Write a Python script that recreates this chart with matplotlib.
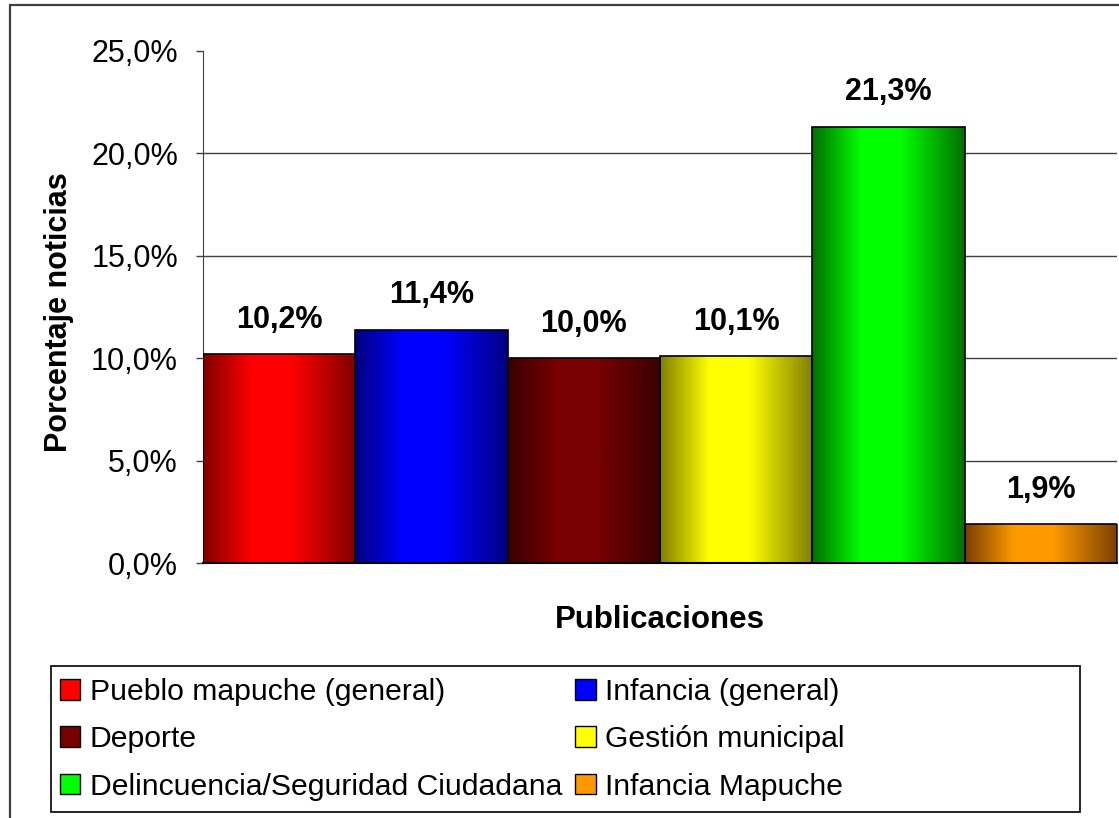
import matplotlib.pyplot as plt
import numpy as np
from matplotlib.colors import to_rgb
from matplotlib.patches import Patch, Rectangle

plt.rcParams['font.family'] = ['Liberation Sans', 'DejaVu Sans']

categorias = ['Pueblo mapuche (general)', 'Infancia (general)', 'Deporte',
              'Gestión municipal', 'Delincuencia/Seguridad Ciudadana', 'Infancia Mapuche']
porcentajes = [10.2, 11.4, 10.0, 10.1, 21.3, 1.9]
etiquetas = ['10,2%', '11,4%', '10,0%', '10,1%', '21,3%', '1,9%']
color_centro = ['#ff0000', '#0000ff', '#780000', '#ffff00', '#00ff00', '#ff9900']
color_borde = ['#800000', '#000080', '#3a0000', '#808000', '#007000', '#7a4000']
yticks = [0, 5, 10, 15, 20, 25]
ytick_labels = ['0,0%', '5,0%', '10,0%', '15,0%', '20,0%', '25,0%']

fig = plt.figure(figsize=(11.19, 8.18), dpi=100)
ax = fig.add_axes([0.1814, 0.3117, 0.8168, 0.626])

x = np.arange(len(categorias))
bars = ax.bar(x, porcentajes, width=1.0, color='none', edgecolor='black', linewidth=1.2, zorder=3)

# horizontal gradient (dark - bright - dark) clipped to each bar
t = np.linspace(0, 1, 200)
perfil = np.clip(np.minimum(t / 0.32, (1 - t) / 0.42), 0, 1)
for b, c0, c1 in zip(bars, color_borde, color_centro):
    a, c = np.array(to_rgb(c0)), np.array(to_rgb(c1))
    img = a[None, :] + (c - a)[None, :] * perfil[:, None]
    img = img[None, :, :]
    im = ax.imshow(img, extent=[b.get_x(), b.get_x() + b.get_width(), 0, b.get_height()],
                   aspect='auto', zorder=2, interpolation='bilinear')
    im.set_clip_path(b)

for xi, v, lab in zip(x, porcentajes, etiquetas):
    ax.annotate(lab, (xi, v), xytext=(0, 14), textcoords='offset points',
                ha='center', va='bottom', fontsize=22, fontweight='bold')

ax.set_xlim(-0.5, 5.5)
ax.set_ylim(0, 25)
ax.set_yticks(yticks)
ax.set_yticklabels(ytick_labels, fontsize=22)
ax.set_xticks([])
ax.tick_params(axis='y', length=5, width=1, pad=13, color='#404040')
for yv in yticks[1:-1]:
    ax.axhline(yv, color='#404040', lw=1, zorder=1)
ax.spines['top'].set_visible(False)
ax.spines['right'].set_visible(False)
ax.spines['left'].set_color('#404040')
ax.spines['bottom'].set_color('black')
ax.spines['bottom'].set_linewidth(1.5)

ax.set_ylabel('Porcentaje noticias', fontsize=22, fontweight='bold')
ax.yaxis.set_label_coords(-0.141, 0.49)
ax.set_xlabel('Publicaciones', fontsize=22.5, fontweight='bold')
ax.xaxis.set_label_coords(0.5, -0.081)

# outer chart border (cut off at right and bottom)
fig.patches.append(Rectangle((10 / 1119, -0.1), 1.2, 1.1 - 5 / 818, transform=fig.transFigure,
                             fill=False, edgecolor='#404040', lw=1.6))
# legend box
fig.patches.append(Rectangle((51 / 1119, 6 / 818), 1029 / 1119, 146 / 818, transform=fig.transFigure,
                             fill=False, edgecolor='black', lw=1.2))

handles = [Patch(facecolor=c, edgecolor='black', lw=1) for c in color_centro]
orden = [0, 2, 4, 1, 3, 5]
ax.legend([handles[i] for i in orden], [categorias[i] for i in orden], ncol=2,
          loc='upper left', bbox_to_anchor=(60 / 1119, 1 - 678 / 818), bbox_transform=fig.transFigure,
          frameon=False, fontsize=21.7, handlelength=0.68, handleheight=0.68, handletextpad=0.3,
          columnspacing=0.45, labelspacing=0.64, borderpad=0, borderaxespad=0)

fig.savefig('out.png', dpi=100)
